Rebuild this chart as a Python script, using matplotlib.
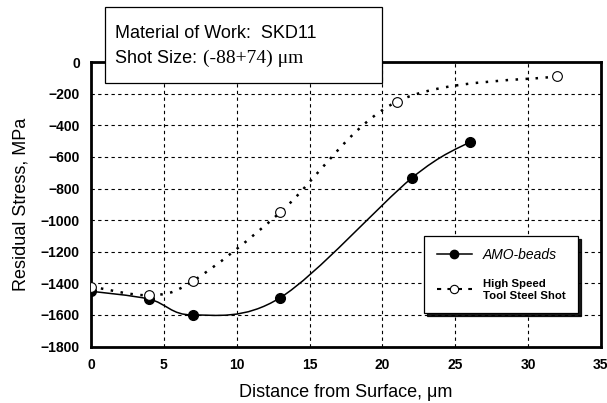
import matplotlib
matplotlib.use("Agg")
import matplotlib.pyplot as plt
from matplotlib.path import Path
from matplotlib.patches import PathPatch, Rectangle
from matplotlib.lines import Line2D

# data
amo_depth = [0, 4, 7, 13, 22, 26]
amo_stress = [-1450, -1500, -1600, -1490, -735, -505]
hss_depth = [0, 4, 7, 13, 21, 32]
hss_stress = [-1420, -1475, -1385, -950, -250, -90]

x_ticks = [0, 5, 10, 15, 20, 25, 30, 35]
y_ticks = [0, -200, -400, -600, -800, -1000, -1200, -1400, -1600, -1800]

plt.rcParams["font.family"] = ["Liberation Sans", "DejaVu Sans"]


def smooth_path(xs, ys):
    """Excel-like smoothed line: Catmull-Rom converted to cubic Bezier segments."""
    pts = list(zip(xs, ys))
    ext = [pts[0]] + pts + [pts[-1]]
    verts = [pts[0]]
    codes = [Path.MOVETO]
    for i in range(1, len(ext) - 2):
        p0, p1, p2, p3 = ext[i - 1], ext[i], ext[i + 1], ext[i + 2]
        c1 = (p1[0] + (p2[0] - p0[0]) / 6, p1[1] + (p2[1] - p0[1]) / 6)
        c2 = (p2[0] - (p3[0] - p1[0]) / 6, p2[1] - (p3[1] - p1[1]) / 6)
        verts += [c1, c2, p2]
        codes += [Path.CURVE4] * 3
    return Path(verts, codes)


fig = plt.figure(figsize=(6.07, 4.03), dpi=100)
ax = fig.add_axes([0.150, 0.140, 0.840, 0.706])

ax.add_patch(PathPatch(smooth_path(amo_depth, amo_stress), fill=False,
                       edgecolor="black", linewidth=1.1, zorder=3))
ax.add_patch(PathPatch(smooth_path(hss_depth, hss_stress), fill=False,
                       edgecolor="black", linewidth=1.8,
                       linestyle=(0, (1, 3)), zorder=3))
ax.plot(amo_depth, amo_stress, "o", color="black", markersize=7, zorder=4)
ax.plot(hss_depth, hss_stress, "o", markerfacecolor="white",
        markeredgecolor="black", markeredgewidth=0.8, markersize=7, zorder=5)

ax.set_xlim(0, 35)
ax.set_ylim(-1800, 0)
ax.set_xticks(x_ticks)
ax.set_yticks(y_ticks)
ax.set_yticklabels([f"{v:d}".replace("-", "\u2212") for v in y_ticks])
ax.grid(True, color="black", linestyle=(0, (3, 3)), linewidth=0.8)
ax.tick_params(length=0, pad=8)
for lab in ax.get_xticklabels() + ax.get_yticklabels():
    lab.set_fontweight("bold")
    lab.set_fontsize(10)
for sp in ax.spines.values():
    sp.set_linewidth(2)

ax.set_xlabel("Distance from Surface, \u03bcm", fontsize=13, labelpad=9)
ax.set_ylabel("Residual Stress, MPa", fontsize=13, labelpad=8)

# legend
handles = [
    Line2D([], [], color="black", linewidth=1.1, marker="o", markersize=6),
    Line2D([], [], color="black", linewidth=1.5, linestyle=(0, (2, 3)),
           marker="o", markersize=6, markerfacecolor="white",
           markeredgewidth=0.8),
]
leg = ax.legend(handles, ["AMO-beads", "High Speed\nTool Steel Shot"],
                loc="lower right", bbox_to_anchor=(0.955, 0.118),
                borderaxespad=0, fancybox=False, shadow={"color": "black", "alpha": 0.9},
                framealpha=1, edgecolor="black",
                handlelength=2.5, labelspacing=1.2, borderpad=0.9,
                handletextpad=0.8)
leg.get_frame().set_linewidth(0.9)
texts = leg.get_texts()
texts[0].set_fontstyle("italic")
texts[0].set_fontsize(10)
texts[1].set_fontweight("bold")
texts[1].set_fontsize(8.2)

# annotation box above the plot
fig.patches.append(Rectangle((0.173, 0.794), 0.456, 0.189, transform=fig.transFigure,
                             facecolor="white", edgecolor="black", linewidth=0.9,
                             zorder=10))
fig.text(0.190, 0.916, "Material of Work:  SKD11", fontsize=13, va="center", zorder=11)
fig.text(0.190, 0.856, "Shot Size:", fontsize=13, va="center", zorder=11)
fig.text(0.334, 0.856, "(-88+74) \u03bcm", fontsize=14, va="center", zorder=11,
         family=["Liberation Serif", "DejaVu Serif"])

fig.savefig("out.png", dpi=100)
